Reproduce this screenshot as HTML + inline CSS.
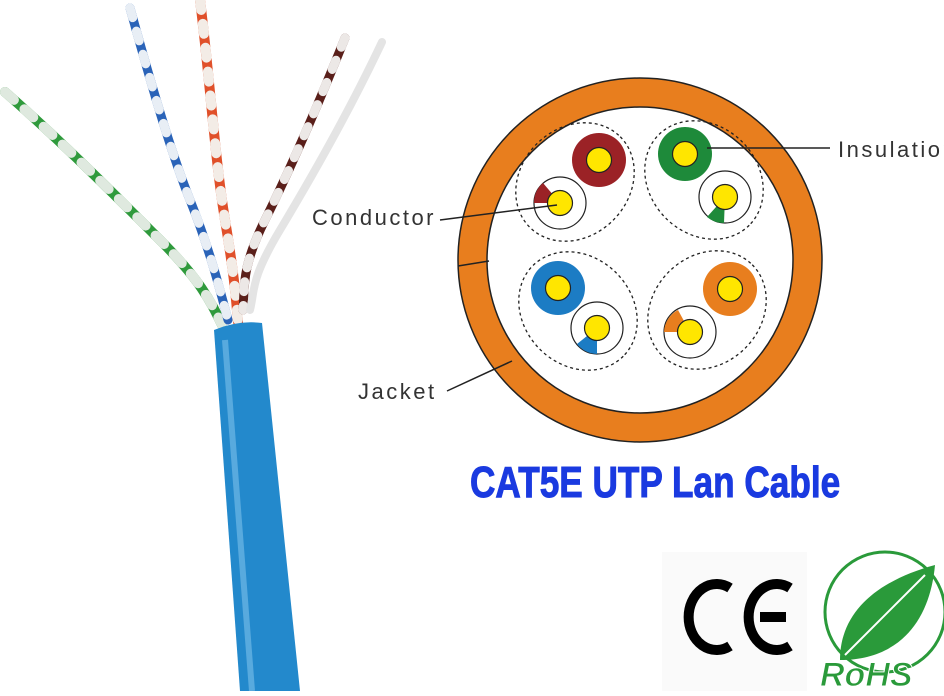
<!DOCTYPE html>
<html><head><style>
body{margin:0;width:944px;height:691px;overflow:hidden;background:#fff;font-family:"Liberation Sans",sans-serif}
</style></head><body>
<svg width="944" height="691" viewBox="0 0 944 691" xmlns="http://www.w3.org/2000/svg">
<g fill="none" stroke-linecap="round">
<path d="M5 92 C60 140 120 200 160 240 S210 300 222 325" stroke="#2f9a3c" stroke-width="10"/>
<path d="M5 92 C60 140 120 200 160 240 S210 300 222 325" stroke="#dfe9df" stroke-width="10" stroke-dasharray="12 14"/>
<path d="M130 8 C150 80 170 150 190 200 S220 290 228 320" stroke="#2a63b8" stroke-width="9"/>
<path d="M130 8 C150 80 170 150 190 200 S220 290 228 320" stroke="#e8eef5" stroke-width="9" stroke-dasharray="10 14"/>
<path d="M200 0 C210 80 215 160 225 220 S236 300 238 322" stroke="#e0502a" stroke-width="10"/>
<path d="M200 0 C210 80 215 160 225 220 S236 300 238 322" stroke="#f3ece6" stroke-width="10" stroke-dasharray="10 14"/>
<path d="M345 38 C320 100 290 170 265 220 S245 290 243 310" stroke="#5a1f1a" stroke-width="9"/>
<path d="M345 38 C320 100 290 170 265 220 S245 290 243 310" stroke="#ece8e6" stroke-width="9" stroke-dasharray="10 14"/>
<path d="M382 42 C350 110 310 180 280 230 S255 290 250 310" stroke="#e4e4e4" stroke-width="8"/>
</g>
<path d="M214 330 Q238 320 262 323 L300 691 L240 691 Z" fill="#2389cc"/>
<path d="M225 340 L252 691" stroke="#7cc0ea" stroke-width="6" opacity=".6"/>
<circle cx="640" cy="260" r="182" fill="#e87e1e" stroke="#222" stroke-width="1.5"/>
<circle cx="640" cy="260" r="153" fill="#fff" stroke="#222" stroke-width="1.5"/>
<g fill="none" stroke="#222" stroke-width="1.3" stroke-dasharray="3 3">
<ellipse cx="575" cy="182" rx="64" ry="54" transform="rotate(-45 575 182)"/>
<ellipse cx="704" cy="180" rx="64" ry="54" transform="rotate(45 704 180)"/>
<ellipse cx="578" cy="311" rx="64" ry="54" transform="rotate(45 578 311)"/>
<ellipse cx="707" cy="310" rx="64" ry="54" transform="rotate(-45 707 310)"/>
</g>
<g stroke="#222" stroke-width="1.2">
<circle cx="599" cy="160" r="27" fill="#9b2226" stroke="none"/><circle cx="599" cy="160" r="12.5" fill="#ffe600"/>
<circle cx="685" cy="154" r="27" fill="#1e8a3a" stroke="none"/><circle cx="685" cy="154" r="12.5" fill="#ffe600"/>
<circle cx="558" cy="288" r="27" fill="#1c7cc4" stroke="none"/><circle cx="558" cy="288" r="12.5" fill="#ffe600"/>
<circle cx="730" cy="289" r="27" fill="#e87e1e" stroke="none"/><circle cx="730" cy="289" r="12.5" fill="#ffe600"/>
<circle cx="560" cy="203" r="26" fill="#fff"/>
<path d="M560 203 L543 183 A26 26 0 0 0 534 203 Z" fill="#9b2226" stroke="none"/>
<circle cx="560" cy="203" r="12.5" fill="#ffe600"/>
<circle cx="725" cy="197" r="26" fill="#fff"/>
<path d="M725 197 L707 217 A26 26 0 0 0 724 223 Z" fill="#1e8a3a" stroke="none"/>
<circle cx="725" cy="197" r="12.5" fill="#ffe600"/>
<circle cx="597" cy="328" r="26" fill="#fff"/>
<path d="M597 328 L577 344 A26 26 0 0 0 597 354 Z" fill="#1c7cc4" stroke="none"/>
<circle cx="597" cy="328" r="12.5" fill="#ffe600"/>
<circle cx="690" cy="332" r="26" fill="#fff"/>
<path d="M690 332 L678 310 A26 26 0 0 0 664 332 Z" fill="#e87e1e" stroke="none"/>
<circle cx="690" cy="332" r="12.5" fill="#ffe600"/>
</g>
<g stroke="#222" stroke-width="1.5">
<line x1="707" y1="148" x2="830" y2="148"/>
<line x1="557" y1="205" x2="440" y2="220"/>
<line x1="512" y1="361" x2="447" y2="391"/>
<line x1="458" y1="266" x2="489" y2="261"/>
</g>
<g font-size="22" fill="#333" letter-spacing="2.5">
<text x="838" y="157">Insulation</text>
<text x="312" y="225">Conductor</text>
<text x="358" y="399">Jacket</text>
</g>
<text x="0" y="0" transform="translate(470,497) scale(0.80,1)" font-size="44" font-weight="bold" fill="#1a3ae0" stroke="#1a3ae0" stroke-width="1">CAT5E UTP Lan Cable</text>
<rect x="662" y="552" width="145" height="139" fill="#fafafa"/>
<path d="M730 588 A28 33 0 1 0 730 646" fill="none" stroke="#000" stroke-width="10"/>
<path d="M790 588 A28 33 0 1 0 790 646 M760 617 L786 617" fill="none" stroke="#000" stroke-width="10"/>
<circle cx="885" cy="612" r="60" fill="#fff" stroke="#2a9a3a" stroke-width="3"/>
<path d="M840 660 C840 610 880 580 935 565 C930 620 900 660 840 660 Z" fill="#2a9a3a"/>
<path d="M845 655 L925 575" stroke="#fff" stroke-width="2"/>
<text x="820" y="686" font-size="34" font-weight="bold" font-style="italic" fill="#2a9a3a" stroke="#fff" stroke-width="1">RoHS</text>
</svg>
</body></html>
